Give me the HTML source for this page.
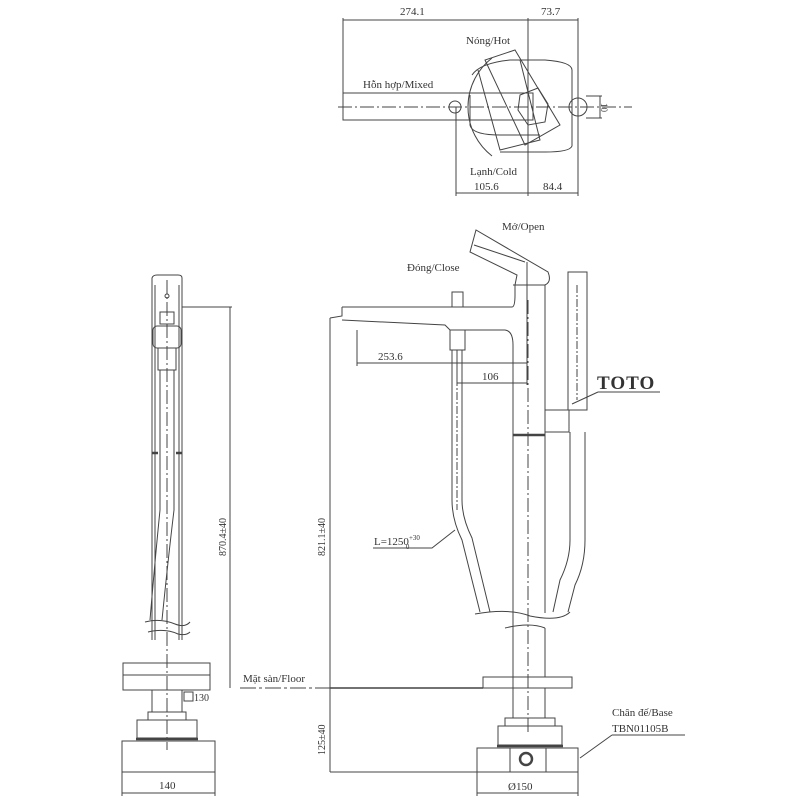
<!DOCTYPE html>
<html><head><meta charset="utf-8"><style>
html,body{margin:0;padding:0;background:#fff}
svg{display:block}
text{font-family:"Liberation Serif",serif;fill:#333;font-size:11px}
</style></head><body>
<svg width="800" height="800" viewBox="0 0 800 800" xmlns="http://www.w3.org/2000/svg">
<g fill="none" stroke="#444" stroke-width="1">
<!-- TOP VIEW -->
<line x1="343" y1="20" x2="578" y2="20"/>
<line x1="343" y1="18" x2="343" y2="120"/>
<line x1="528" y1="18" x2="528" y2="196"/>
<line x1="578" y1="18" x2="578" y2="196"/>
<line x1="456" y1="107" x2="456" y2="196"/>
<line x1="456" y1="193" x2="578" y2="193"/>
<rect x="343" y="93" width="190" height="27"/>
<line x1="338" y1="107" x2="632" y2="107" stroke-dasharray="14,3,2,3"/>
<circle cx="455" cy="107" r="6"/>
<circle cx="578" cy="107" r="9"/>
<line x1="600" y1="96" x2="600" y2="118"/>
<line x1="586" y1="96" x2="602" y2="96"/><line x1="586" y1="118" x2="602" y2="118"/>
<path d="M492 58 A62 62 0 0 0 492 156"/>
<path d="M472 75 Q480 63 510 60 L545 60 Q572 62 572 70 L572 146 Q570 152 545 152 L500 152"/>
<path d="M470 95 L470 125 Q472 135 500 135 L540 135"/>
<path d="M485 60 L525 145 L560 125 L515 50 Z"/>
<path d="M478 70 L500 150 L540 140 L520 60"/>
<path d="M520 95 L538 88 L548 104 L545 122 L528 125 L518 110 Z"/>
<!-- FRONT VIEW -->
<path d="M342 307 L512 307 Q515 307 515 295 L515 285"/>
<path d="M330 318 L342 316 L342 307"/>
<path d="M342 320 L445 325 L450 330 L505 330 Q513 331 513 345 L513 688"/>
<line x1="545" y1="285" x2="545" y2="613"/>
<line x1="513" y1="285" x2="545" y2="285"/>
<path d="M515 285 L517 275 L470 252 L476 230 L548 272 Q552 282 545 285"/>
<path d="M474 245 L525 262"/>
<line x1="527" y1="262" x2="527" y2="385"/>
<line x1="513" y1="435" x2="545" y2="435" stroke-width="2.5"/>
<line x1="528" y1="300" x2="528" y2="735" stroke-dasharray="14,3,2,3"/>
<line x1="330" y1="318" x2="330" y2="772"/>
<line x1="357" y1="330" x2="357" y2="366"/>
<line x1="357" y1="363" x2="527" y2="363"/>
<line x1="457" y1="350" x2="457" y2="385"/>
<line x1="457" y1="383" x2="527" y2="383"/>
<rect x="452" y="292" width="11" height="15"/>
<rect x="450" y="330" width="15" height="20"/>
<path d="M452 350 L452 500 Q452 520 462 540 L480 612"/>
<path d="M462 350 L462 500 Q462 518 472 538 L490 612"/>
<line x1="457" y1="350" x2="457" y2="510" stroke-dasharray="8,2,2,2"/>
<rect x="568" y="272" width="19" height="138"/>
<line x1="577" y1="285" x2="577" y2="400" stroke-dasharray="8,2,2,2"/>
<rect x="545" y="410" width="24" height="22"/>
<path d="M570 432 L570 540 Q570 560 560 580 L553 612"/>
<path d="M585 432 L585 540 Q585 565 575 585 L568 612"/>
<path d="M475 614 Q510 608 530 616 Q560 622 570 612"/>
<path d="M505 628 Q530 622 545 628"/>
<line x1="513" y1="628" x2="513" y2="677"/><line x1="545" y1="628" x2="545" y2="677"/>
<rect x="483" y="677" width="89" height="11"/>
<line x1="513" y1="688" x2="513" y2="718"/><line x1="545" y1="688" x2="545" y2="718"/>
<rect x="505" y="718" width="50" height="8"/>
<rect x="498" y="726" width="64" height="19"/>
<line x1="497" y1="746" x2="563" y2="746" stroke-width="2.5"/>
<rect x="477" y="748" width="101" height="24"/>
<line x1="510" y1="748" x2="510" y2="772"/><line x1="546" y1="748" x2="546" y2="772"/>
<circle cx="526" cy="759" r="6" stroke-width="2.5"/>
<line x1="477" y1="772" x2="477" y2="796"/><line x1="578" y1="772" x2="578" y2="796"/>
<line x1="477" y1="793" x2="578" y2="793"/>
<line x1="330" y1="772" x2="477" y2="772"/>
<line x1="240" y1="688" x2="483" y2="688" stroke-dasharray="16,3,3,3"/>
<line x1="330" y1="688" x2="483" y2="688" stroke-width="1.5"/>
<path d="M373 548 L432 548 L455 530"/>
<path d="M612 735 L685 735 M612 735 L580 758"/>
<path d="M598 392 L660 392"/>
<path d="M598 392 L572 404"/>
<!-- SIDE VIEW -->
<path d="M152 300 L152 278 Q153 275 157 275 L178 275 Q182 275 182 278 L182 300"/>
<line x1="152" y1="300" x2="152" y2="640"/><line x1="182" y1="300" x2="182" y2="640"/>
<line x1="155" y1="285" x2="155" y2="640"/><line x1="179" y1="285" x2="179" y2="640"/>
<line x1="167" y1="280" x2="167" y2="750" stroke-dasharray="14,3,2,3"/>
<circle cx="167" cy="296" r="2"/>
<rect x="160" y="312" width="14" height="12"/>
<rect x="153" y="326" width="28" height="22" rx="4"/>
<rect x="158" y="348" width="18" height="22"/>
<line x1="152" y1="453" x2="158" y2="453" stroke-width="2.5"/>
<line x1="176" y1="453" x2="182" y2="453" stroke-width="2.5"/>
<path d="M160 370 L160 510 Q155 560 150 620"/><path d="M174 370 L174 510 Q168 560 162 620"/>
<path d="M145 622 Q160 618 175 624 Q185 628 190 622"/>
<path d="M148 632 Q165 628 178 634 Q186 636 190 632"/>
<line x1="182" y1="307" x2="232" y2="307"/>
<line x1="230" y1="307" x2="230" y2="688"/>
<rect x="123" y="663" width="87" height="27"/>
<line x1="123" y1="675" x2="210" y2="675"/>
<rect x="184" y="692" width="9" height="9"/>
<line x1="152" y1="690" x2="152" y2="712"/><line x1="182" y1="690" x2="182" y2="712"/>
<rect x="148" y="712" width="38" height="8"/>
<rect x="137" y="720" width="60" height="18"/>
<line x1="136" y1="739" x2="198" y2="739" stroke-width="2.5"/>
<rect x="122" y="741" width="93" height="31"/>
<line x1="122" y1="772" x2="122" y2="796"/><line x1="215" y1="772" x2="215" y2="796"/>
<line x1="122" y1="793" x2="215" y2="793"/>
</g>
<g>
<text x="400" y="15">274.1</text>
<text x="541" y="15">73.7</text>
<text x="466" y="44">Nóng/Hot</text>
<text x="363" y="88">Hỗn hợp/Mixed</text>
<text x="470" y="175">Lạnh/Cold</text>
<text x="474" y="190">105.6</text>
<text x="543" y="190">84.4</text>
<text x="601" y="103" style="font-size:9px" transform="rotate(90 601 103)">10</text>
<text x="502" y="230">Mở/Open</text>
<text x="407" y="271">Đóng/Close</text>
<text x="378" y="360">253.6</text>
<text x="482" y="380">106</text>
<text x="597" y="389" style="font-size:19px;font-weight:bold;letter-spacing:1px">TOTO</text>
<text x="374" y="545">L=1250<tspan style="font-size:7px" dy="-5">+30</tspan><tspan style="font-size:7px" dx="-14" dy="9">0</tspan></text>
<text x="325" y="556" transform="rotate(-90 325 556)" style="font-size:10px">821.1±40</text>
<text x="325" y="755" transform="rotate(-90 325 755)" style="font-size:10px">125±40</text>
<text x="612" y="716">Chân đế/Base</text>
<text x="612" y="732">TBN01105B</text>
<text x="508" y="790">Ø150</text>
<text x="226" y="556" transform="rotate(-90 226 556)" style="font-size:10px">870.4±40</text>
<text x="243" y="682">Mặt sàn/Floor</text>
<text x="194" y="701" style="font-size:10px">130</text>
<text x="159" y="789">140</text>
</g>
</svg>
</body></html>
